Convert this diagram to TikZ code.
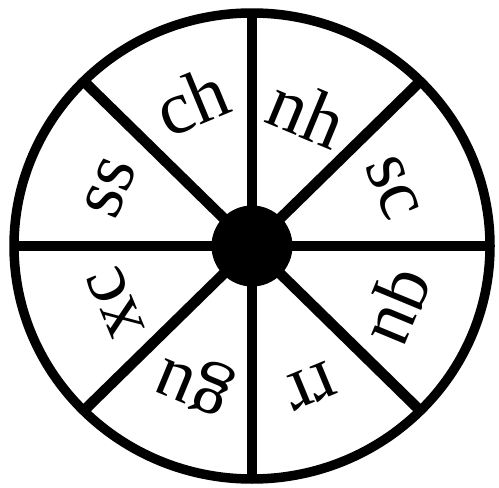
\documentclass[tikz,border=0pt]{standalone}
\usepackage{fontspec}
\setmainfont{Liberation Serif}

\begin{document}
\begin{tikzpicture}[x=0.02cm,y=0.02cm,
    rim/.style={draw,line width=5.4pt},
    spoke/.style={line width=6pt},
    hub/.style={circle,fill=black,minimum size=1.62cm,inner sep=0pt},
    label/.style={font=\fontsize{43}{46}\selectfont,inner sep=0pt}]
    \useasboundingbox (0,0) rectangle (499,487);
    \coordinate (c) at (252,241);
    % rim points for the eight spokes
    \foreach \a in {0,45,...,315}
        \coordinate (r\a) at ([shift={(\a:238 and 233)}]c);
    \foreach \a in {0,45,...,315}
        \draw[spoke] (c) -- (r\a);
    \draw[rim] (c) ellipse [x radius=238,y radius=233];
    \node[hub] (h) at (c) {};
    \node[label,rotate=22.5] (ch) at ([shift={(112.5:157)}]c) {ch};
    \node[label,rotate=-22.5] (nh) at ([shift={(67.5:145)}]c) {nh};
    \node[label,rotate=-67.5] (sc) at ([shift={(22.5:152)}]c) {sc};
    \node[label,rotate=-112.5] (qu) at ([shift={(-22.5:155)}]c) {qu};
    \node[label,rotate=-157.5] (rr) at ([shift={(-67.5:152)}]c) {rr};
    \node[label,rotate=157.5] (gu) at ([shift={(-112.5:148)}]c) {gu};
    \node[label,rotate=112.5] (xc) at ([shift={(202.5:148)}]c) {xc};
    \node[label,rotate=67.5] (ss) at ([shift={(157.5:153)}]c) {ss};
\end{tikzpicture}
\end{document}
